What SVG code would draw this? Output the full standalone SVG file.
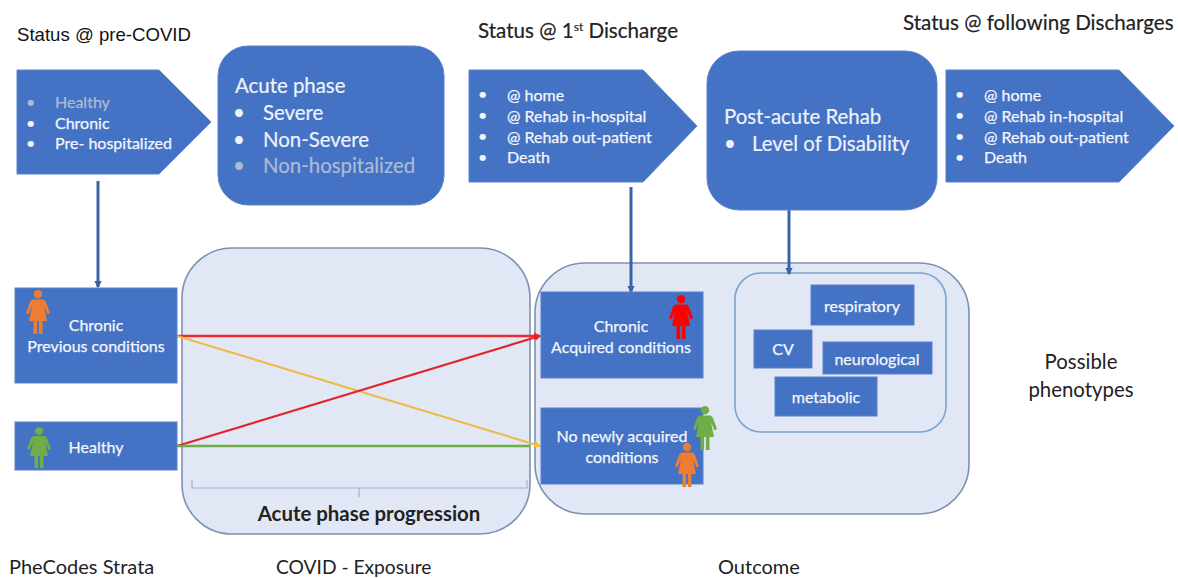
<svg xmlns="http://www.w3.org/2000/svg" width="1178" height="578" viewBox="0 0 1178 578">
<style>
text{font-family:"Lato","Noto Sans",sans-serif}
.b{fill:#4472c4;stroke:#5b82c8;stroke-width:1}
.p{fill:#e1e7f4;stroke:#7d92b3;stroke-width:1.6}
.w{fill:#f4f6fb;font-size:16px;stroke:#f4f6fb;stroke-width:.25}
.d{fill:#aebbd6;font-size:16px;stroke:#aebbd6;stroke-width:.25}
.c{text-anchor:middle}
.h{fill:#222;font-size:20.6px;stroke:#222;stroke-width:.2}
.l{fill:#222;font-size:20px}
.t{fill:#eef2fa;font-size:20.4px;stroke:#eef2fa;stroke-width:.2}
.v{stroke:#3a62a8;stroke-width:3;fill:none}
</style>
<defs>
<path id="person" d="M0,0a4.2,4.2 0 1 1 -.01,0ZM-5,9.5H5Q7,9.5 8,12L12,23 9.5,24.5 6,16 9,31H4.5V44H.9V31H-.9V44H-4.5V31H-9L-6,16-9.5,24.5-12,23-8,12Q-7,9.5-5,9.5Z"/>
<marker id="hv" viewBox="0 0 6 6" refX="5" refY="3" markerWidth="2.4" markerHeight="2.4" orient="auto"><path d="M0,0L6,3 0,6Z" fill="#3a62a8"/></marker>
<marker id="hr" viewBox="0 0 6 6" refX="5" refY="3" markerWidth="3" markerHeight="3" orient="auto"><path d="M0,0L6,3 0,6Z" fill="#f01c24"/></marker>
<marker id="hy" viewBox="0 0 6 6" refX="5" refY="3" markerWidth="3" markerHeight="3" orient="auto"><path d="M0,0L6,3 0,6Z" fill="#f2c230"/></marker>
</defs>
<rect width="1178" height="578" fill="#fff"/>

<g id="label-pre-covid"><text x="17" y="41" style="font-family:'Liberation Sans',sans-serif;fill:#111;font-size:18.6px;stroke:none">Status @ pre-COVID</text></g>
<g id="label-first-discharge"><text x="478" y="38" class="h">Status @ 1<tspan font-size="12" dy="-7">st</tspan><tspan dy="7"> Discharge</tspan></text></g>
<g id="label-following"><text x="903" y="30" class="h">Status @ following Discharges</text></g>

<g id="panel-exposure"><rect class="p" x="182" y="248" width="348" height="286" rx="50"/>
<path d="M192,480V488H527V480M359,488V497" fill="none" stroke="#9db3d8" stroke-width="1.2"/>
<text x="369" y="521" class="c" style="fill:#222;font-size:20.4px;font-weight:700">Acute phase progression</text></g>
<g id="panel-outcome"><rect class="p" x="535" y="263" width="434" height="251" rx="50"/></g>
<g id="panel-phenotypes"><rect x="735" y="273" width="211" height="159" rx="26" fill="#e1e7f4" stroke="#7ba3cf" stroke-width="1.6"/></g>

<g id="connectors">
<path class="v" d="M98,181V287" marker-end="url(#hv)"/>
<path class="v" d="M631,187V292" marker-end="url(#hv)"/>
<path class="v" d="M789,210V274" marker-end="url(#hv)" stroke-width="3.5"/>
<path d="M177,336H540" stroke="#ee2a2e" stroke-width="2.4" marker-end="url(#hr)"/>
<path d="M177,336L540,446" stroke="#ecbc48" stroke-width="2.2" marker-end="url(#hy)"/>
<path d="M177,446L540,336" stroke="#e0252d" stroke-width="2.2" marker-end="url(#hr)"/>
<path d="M177,446H530" stroke="#70ad47" stroke-width="2.4"/>
</g>

<g id="status-pre-covid"><path class="b" d="M17,70H159L211,122 159,174H17Z"/>
<text x="26" y="108" class="d">•</text><text x="55" y="108" class="d">Healthy</text>
<text x="26" y="129" class="w">•</text><text x="55" y="129" class="w">Chronic</text>
<text x="26" y="149" class="w">•</text><text x="55" y="149" class="w">Pre- hospitalized</text></g>

<g id="acute-phase"><rect class="b" x="218" y="46" width="226" height="159" rx="30"/>
<text x="235" y="93" class="t">Acute phase</text>
<text x="233" y="120" class="t">•</text><text x="263" y="120" class="t">Severe</text>
<text x="233" y="147" class="t">•</text><text x="263" y="147" class="t">Non-Severe</text>
<text x="233" y="173" class="t" style="fill:#aebbd6;stroke:#aebbd6">•</text><text x="263" y="173" class="t" style="fill:#aebbd6;stroke:#aebbd6">Non-hospitalized</text></g>

<g id="status-first-discharge"><path class="b" d="M469,70H643L697,126 643,182H469Z"/>
<text x="478" y="100" class="w">•</text><text x="507" y="101" class="w">@ home</text>
<text x="478" y="121" class="w">•</text><text x="507" y="122" class="w">@ Rehab in-hospital</text>
<text x="478" y="142" class="w">•</text><text x="507" y="143" class="w">@ Rehab out-patient</text>
<text x="478" y="163" class="w">•</text><text x="507" y="163" class="w">Death</text></g>

<g id="post-acute-rehab"><rect class="b" x="707" y="51" width="230" height="159" rx="32"/>
<text x="724" y="124" class="t">Post-acute Rehab</text>
<text x="724" y="151" class="t">•</text><text x="752" y="151" class="t">Level of Disability</text></g>

<g id="status-following"><path class="b" d="M946,70H1119L1174,126 1119,182H946Z"/>
<text x="955" y="100" class="w">•</text><text x="984" y="101" class="w">@ home</text>
<text x="955" y="121" class="w">•</text><text x="984" y="122" class="w">@ Rehab in-hospital</text>
<text x="955" y="142" class="w">•</text><text x="984" y="143" class="w">@ Rehab out-patient</text>
<text x="955" y="163" class="w">•</text><text x="984" y="163" class="w">Death</text></g>

<g id="chronic-previous"><rect class="b" x="15" y="288" width="162" height="95"/>
<text x="96" y="331" class="w c">Chronic</text><text x="96" y="352" class="w c">Previous conditions</text>
<use href="#person" x="38" y="290" fill="#ed7d31"/></g>
<g id="healthy"><rect class="b" x="15" y="422" width="162" height="48"/>
<text x="96" y="453" class="w c">Healthy</text>
<use href="#person" x="39" y="427" fill="#70ad47" transform="translate(0 30) scale(1 .93)"/></g>
<g id="chronic-acquired"><rect class="b" x="541" y="292" width="162" height="86"/>
<text x="621" y="332" class="w c">Chronic</text><text x="621" y="353" class="w c">Acquired conditions</text>
<use href="#person" x="681" y="295" fill="#f00"/></g>
<g id="no-new"><rect class="b" x="541" y="408" width="162" height="76"/>
<text x="622" y="442" class="w c">No newly acquired</text><text x="622" y="463" class="w c">conditions</text>
<use href="#person" x="705" y="406" fill="#70ad47"/>
<use href="#person" x="687" y="443" fill="#ed7d31"/></g>

<g id="respiratory"><rect class="b" x="811" y="285" width="103" height="40"/><text x="862" y="312" class="w c">respiratory</text></g>
<g id="cv"><rect class="b" x="754" y="330" width="58" height="38"/><text x="783" y="355" class="w c">CV</text></g>
<g id="neurological"><rect class="b" x="823" y="342" width="109" height="32"/><text x="877" y="365" class="w c">neurological</text></g>
<g id="metabolic"><rect class="b" x="775" y="377" width="102" height="39"/><text x="826" y="403" class="w c">metabolic</text></g>

<g id="label-phenotypes"><text x="1081" y="369" class="c" style="fill:#222;font-size:20.4px">Possible</text><text x="1081" y="397" class="c" style="fill:#222;font-size:20.4px">phenotypes</text></g>
<g id="label-strata"><text x="9" y="574" class="l">PheCodes Strata</text></g>
<g id="label-exposure"><text x="276" y="574" class="l" style="font-size:19.2px">COVID - Exposure</text></g>
<g id="label-outcome"><text x="718" y="574" class="l">Outcome</text></g>
</svg>
